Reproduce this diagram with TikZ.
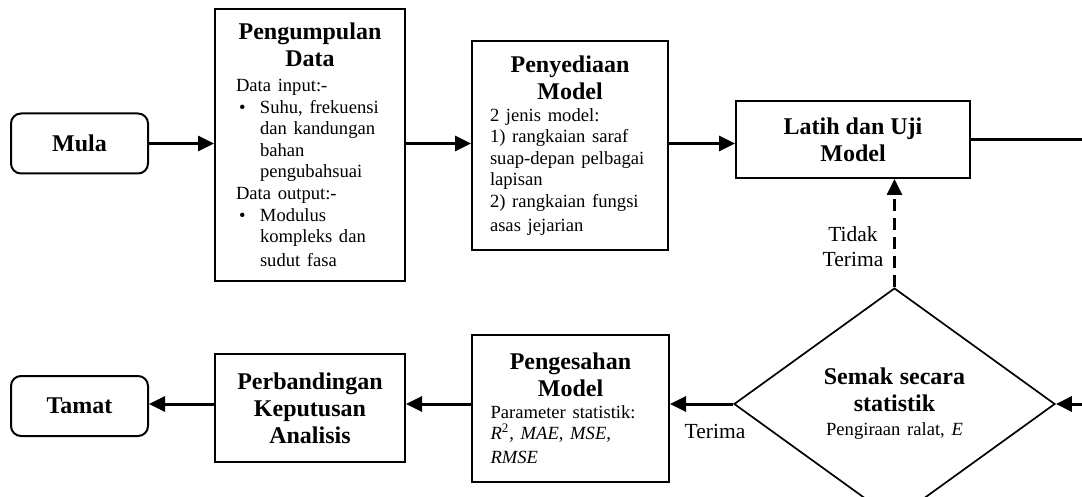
\documentclass[tikz,border=0pt]{standalone}
\usepackage{fontspec}
\setmainfont{Liberation Serif}
\usetikzlibrary{shapes.geometric,arrows.meta}
\lineskiplimit=-20pt
\newcommand{\ttlf}{\fontsize{12}{13.6}\selectfont\bfseries\lineskiplimit=-20pt\relax}
\newcommand{\bdyf}{\fontsize{9.3}{10.8}\selectfont\lineskiplimit=-20pt\relax}
\newcommand{\lblf}{\fontsize{10.75}{12.5}\selectfont}
\newcommand{\bl}{\makebox[12pt][l]{\hspace{1.5pt}\textbullet}}
\newcommand{\ind}{\hspace*{12pt}}
\begin{document}
\begin{tikzpicture}[x=0.5pt,y=-0.5pt,
  box/.style={draw,line width=1pt,inner sep=0pt},
  term/.style={box,rounded corners=5pt,font=\ttlf,minimum width=68.5pt,minimum height=30pt},
  decide/.style={draw,diamond,line width=0.85pt,inner sep=0pt,text width=80pt,align=center,minimum width=160.5pt,minimum height=96pt},
  arr/.style={line width=1.5pt,-{Triangle[length=8pt,width=7.5pt]}},
  dasharr/.style={arr,dash pattern=on 6pt off 3.5pt},
  lbl/.style={font=\lblf,align=center,inner sep=0pt}
]
\useasboundingbox (0,0) rectangle (1082,497);

\node[term] (mula) at (79.5,143.5) {Mula};
\node[box,text width=74pt,minimum width=95pt,minimum height=136pt,align=left] (pk) at (310,145) {%
{\centering\ttlf Pengumpulan\\Data\par}\vspace{1.5pt}%
\bdyf Data input:-\\
\bl Suhu, frekuensi\\
\ind dan kandungan\\
\ind bahan\\
\ind pengubahsuai\\
Data output:-\\
\bl Modulus\\
\ind kompleks dan\\
\ind sudut fasa};
\node[box,text width=80pt,minimum width=98pt,minimum height=104.5pt,align=left] (pny) at (570,145.5) {%
{\centering\ttlf Penyediaan\\Model\par}%
\bdyf 2 jenis model:\\
1) rangkaian saraf\\
\mbox{suap-depan pelbagai}\\
lapisan\\
2) rangkaian fungsi\\
asas jejarian};
\node[box,font=\ttlf,align=center,minimum width=117pt,minimum height=38.5pt] (lat) at (853,139.5) {Latih dan Uji\\Model};

\node[decide] (dia) at (894.5,404) {{\ttlf Semak secara\\statistik\par}\bdyf Pengiraan ralat, \textit{E}};
\node[box,text width=80pt,minimum width=98.5pt,minimum height=73.5pt,align=left] (pg) at (570.5,408.5) {%
{\centering\ttlf Pengesahan\\Model\par}%
\bdyf Parameter statistik:\\
\textit{R}\textsuperscript{2}, \textit{MAE}, \textit{MSE},\\
\textit{RMSE}};
\node[box,font=\ttlf,align=center,minimum width=95pt,minimum height=54pt] (pb) at (310,408) {Perbandingan\\Keputusan\\Analisis};
\node[term] (tm) at (79.5,406) {Tamat};

\coordinate (r1) at (1084,139.5);
\coordinate (r2) at (1084,404);

\draw[arr] (mula.east) -- (mula.east -| pk.west);
\draw[arr] (pk.east |- mula.east) -- (pny.west |- mula.east);
\draw[arr] (pny.east |- mula.east) -- (lat.west |- mula.east);
\draw[line width=1.5pt] (lat.east) -- (r1);
\draw[arr] (r2) -- (dia.east);
\draw[dasharr] (dia.north) -- (dia.north |- lat.south);
\draw[arr] (dia.west) -- (dia.west -| pg.east);
\draw[arr] (pg.west |- dia.west) -- (pb.east |- dia.west);
\draw[arr] (pb.west |- dia.west) -- (tm.east |- dia.west);

\node[lbl] (tdk) at (853,247) {Tidak\\Terima};
\node[lbl] (trm) at (715,431) {Terima};
\end{tikzpicture}
\end{document}
